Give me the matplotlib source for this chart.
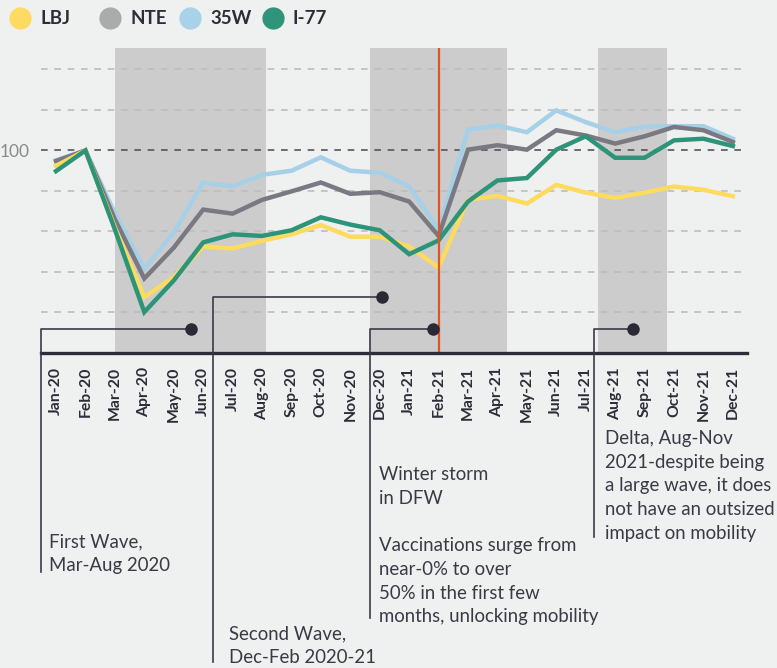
import matplotlib
matplotlib.use("Agg")
import matplotlib.pyplot as plt
from matplotlib.lines import Line2D

plt.rcParams['font.family'] = ['Lato', 'DejaVu Sans']

months = ['Jan-20', 'Feb-20', 'Mar-20', 'Apr-20', 'May-20', 'Jun-20', 'Jul-20', 'Aug-20',
          'Sep-20', 'Oct-20', 'Nov-20', 'Dec-20', 'Jan-21', 'Feb-21', 'Mar-21', 'Apr-21',
          'May-21', 'Jun-21', 'Jul-21', 'Aug-21', 'Sep-21', 'Oct-21', 'Nov-21', 'Dec-21']
lbj = [96.2, 100, 81.0, 63.8, 68.7, 76.3, 75.8, 77.7, 79.3, 81.6, 78.7, 78.7,
       76.3, 71.1, 87.8, 88.8, 86.9, 91.5, 89.6, 88.3, 89.6, 91.1, 90.3, 88.7]
nte = [97.4, 100, 83.0, 68.4, 76.0, 85.4, 84.4, 87.8, 89.9, 92.1, 89.3, 89.7,
       87.4, 78.9, 100.2, 101.3, 100.2, 105.0, 103.7, 101.7, 103.5, 105.8, 105.0, 102.1]
w35 = [97.6, 100, 84.5, 70.8, 79.7, 92.1, 91.1, 94.0, 95.0, 98.3, 95.0, 94.5,
       91.1, 80.5, 105.1, 106.2, 104.5, 109.9, 107.0, 104.5, 105.9, 106.0, 106.0, 102.9]
i77 = [94.9, 100, 80.5, 60.1, 67.9, 77.3, 79.3, 78.9, 80.3, 83.5, 81.7, 80.3,
       74.4, 77.8, 87.4, 92.6, 93.2, 100.2, 103.5, 98.2, 98.2, 102.5, 102.9, 101.1]
series_names = ['LBJ', 'NTE', '35W', 'I-77']
wave_spans = [(2.0, 7.15), (10.67, 15.31), (18.43, 20.75)]
storm_month = 13
gridvals = [60, 70, 80, 90, 110, 120]

W, H = 777, 668
BG = '#EFF1F0'
SHADE = '#CBCCCB'
DARK = '#2D2C38'
TXT = '#3A3946'
line_cols = {'LBJ': '#FDDB5F', 'NTE': '#7A7981', '35W': '#A6D0E8', 'I-77': '#2E9479'}
leg_cols = {'LBJ': '#FDDB63', 'NTE': '#ABABAB', '35W': '#A8D1EA', 'I-77': '#2F9479'}

fig = plt.figure(figsize=(W / 100, H / 100), dpi=100)
fig.patch.set_facecolor(BG)
ax = fig.add_axes([41 / W, 1 - 353 / H, 706 / W, 305 / H])
ax.set_facecolor(BG)
ax.set_xlim(-0.51, 23.48)
ax.set_ylim(50, 125.3)

for a, b in wave_spans:
    ax.axvspan(a, b, color=SHADE, lw=0, zorder=0)

for g in gridvals:
    ax.axhline(g, color='#BDBDBD', lw=1.2, dashes=(4, 4), zorder=1)
ax.axhline(100, color='#55545E', lw=1.2, dashes=(4, 4), zorder=1)

x = list(range(len(months)))
data = {'LBJ': lbj, 'NTE': nte, '35W': w35, 'I-77': i77}
zo = {'35W': 3, 'NTE': 4, 'LBJ': 5, 'I-77': 6}
for name in series_names:
    ax.plot(x, data[name], color=line_cols[name], lw=3.2, zorder=zo[name],
            solid_joinstyle='miter')

ax.axvline(storm_month, color='#E0542A', lw=1.6, zorder=7)

for s in ['top', 'right', 'left']:
    ax.spines[s].set_visible(False)
ax.spines['bottom'].set_color(DARK)
ax.spines['bottom'].set_linewidth(2.4)
ax.spines['bottom'].set_zorder(10)
ax.set_yticks([100])
ax.set_yticklabels(['100'], fontsize=12.5, color='#8A8A8A')
ax.tick_params(axis='y', length=0, pad=8)
ax.set_xticks(x)
ax.set_xticklabels(months, rotation=90, fontsize=11.3, fontweight='bold', color=DARK)
ax.tick_params(axis='x', length=0, pad=10)


def P(px, py):
    return (px / W, 1 - py / H)


def fline(xs, ys):
    fx = [px / W for px in xs]
    fy = [1 - py / H for py in ys]
    fig.add_artist(Line2D(fx, fy, transform=fig.transFigure, color=TXT, lw=1.2, zorder=20))


def fdot(px, py):
    fx, fy = P(px, py)
    fig.add_artist(Line2D([fx], [fy], transform=fig.transFigure, marker='o',
                          markersize=8, color='#2A2935', lw=0, zorder=21))


# brackets
fline([191, 41, 41], [329, 329, 572]); fdot(191, 329)
fline([382, 213, 213], [297, 297, 662]); fdot(382, 297)
fline([433, 370, 370], [329, 329, 618]); fdot(433, 329)
fline([633, 594, 594], [329, 329, 537]); fdot(633, 329)

fs = 13.4
ls = 1.48
fig.text(*P(49, 533), 'First Wave,\nMar-Aug 2020', fontsize=fs, color=TXT,
         va='top', ha='left', linespacing=ls)
fig.text(*P(229, 625), 'Second Wave,\nDec-Feb 2020-21', fontsize=fs, color=TXT,
         va='top', ha='left', linespacing=ls)
fig.text(*P(379, 466), 'Winter storm\nin DFW\n\nVaccinations surge from\nnear-0% to over\n50% in the first few\nmonths, unlocking mobility',
         fontsize=fs, color=TXT, va='top', ha='left', linespacing=ls)
fig.text(*P(605, 430), 'Delta, Aug-Nov\n2021-despite being\na large wave, it does\nnot have an outsized\nimpact on mobility',
         fontsize=fs, color=TXT, va='top', ha='left', linespacing=ls)

# legend
leg_x = {'LBJ': 20, 'NTE': 110, '35W': 190, 'I-77': 273}
for name in series_names:
    cx = leg_x[name]
    fx, fy = P(cx, 18)
    fig.add_artist(Line2D([fx], [fy], transform=fig.transFigure, marker='o',
                          markersize=15, color=leg_cols[name], lw=0))
    fig.text(*P(cx + 20, 18), name, fontsize=13.5, fontweight='bold', color=DARK,
             va='center', ha='left')

fig.savefig('out.png', dpi=100, facecolor=BG)
